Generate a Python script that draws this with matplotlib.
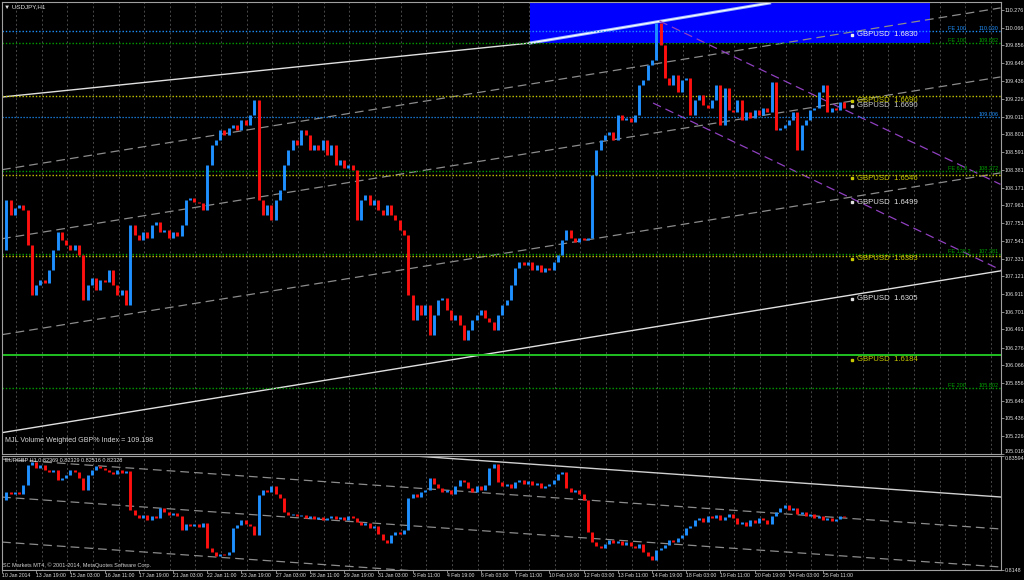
import numpy as np
import matplotlib.pyplot as plt

plt.rcParams['font.family'] = ['Liberation Sans', 'DejaVu Sans']

# USDJPY H1 closes, one every 4 bars
usdjpy = [
    107.43, 108.03, 107.85, 107.93, 107.97, 107.91, 107.49, 106.90, 107.02, 107.08,
    107.04, 107.20, 107.43, 107.65, 107.55, 107.49, 107.43, 107.49, 107.37, 106.84,
    107.02, 107.10, 106.96, 107.08, 107.05, 107.20, 107.02, 106.90, 106.96, 106.78,
    107.73, 107.61, 107.55, 107.65, 107.58, 107.73, 107.76, 107.65, 107.67, 107.58,
    107.65, 107.60, 107.73, 108.03, 108.05, 108.00, 107.99, 107.91, 108.44, 108.68,
    108.74, 108.85, 108.80, 108.88, 108.91, 108.85, 108.97, 108.91, 109.03, 109.21,
    108.03, 107.85, 107.97, 107.79, 108.03, 108.14, 108.44, 108.62, 108.74, 108.68,
    108.85, 108.80, 108.62, 108.68, 108.62, 108.74, 108.56, 108.68, 108.44, 108.50,
    108.40, 108.44, 108.38, 107.79, 108.03, 108.08, 107.97, 108.03, 107.91, 107.85,
    107.97, 107.85, 107.79, 107.67, 107.61, 106.90, 106.60, 106.78, 106.66, 106.78,
    106.43, 106.66, 106.84, 106.86, 106.72, 106.60, 106.66, 106.54, 106.37, 106.48,
    106.60, 106.66, 106.72, 106.63, 106.58, 106.48, 106.66, 106.78, 106.84, 107.02,
    107.22, 107.29, 107.25, 107.29, 107.20, 107.25, 107.17, 107.22, 107.20, 107.29,
    107.37, 107.55, 107.67, 107.58, 107.53, 107.58, 107.55, 107.58, 108.32, 108.62,
    108.74, 108.80, 108.83, 108.74, 109.03, 108.97, 109.00, 108.95, 109.03, 109.39,
    109.45, 109.62, 109.68, 110.12, 109.86, 109.47, 109.39, 109.51, 109.30, 109.45,
    109.47, 109.03, 109.21, 109.27, 109.15, 109.11, 109.21, 109.39, 108.91, 109.35,
    109.09, 109.07, 109.21, 108.97, 109.07, 109.00, 109.09, 109.03, 109.11, 109.07,
    109.42, 108.85, 108.88, 108.91, 108.97, 109.07, 108.62, 108.91, 108.97, 109.09,
    109.11, 109.30, 109.39, 109.07, 109.11, 109.09, 109.19, 109.11,
]

# EURGBP H1 closes, same spacing
eurgbp = [
    0.8278, 0.8293, 0.8289, 0.8293, 0.8289, 0.8306, 0.8343, 0.8348, 0.8337, 0.8343,
    0.8333, 0.8330, 0.8333, 0.8315, 0.8319, 0.8324, 0.8333, 0.8330, 0.8319, 0.8296,
    0.8324, 0.8333, 0.8341, 0.8337, 0.8333, 0.8330, 0.8326, 0.8333, 0.8328, 0.8332,
    0.8259, 0.8250, 0.8244, 0.8250, 0.8241, 0.8248, 0.8244, 0.8263, 0.8256, 0.8250,
    0.8254, 0.8248, 0.8222, 0.8233, 0.8230, 0.8233, 0.8228, 0.8235, 0.8189, 0.8181,
    0.8174, 0.8178, 0.8176, 0.8181, 0.8226, 0.8231, 0.8241, 0.8233, 0.8230, 0.8213,
    0.8287, 0.8296, 0.8293, 0.8304, 0.8289, 0.8282, 0.8256, 0.8250, 0.8252, 0.8248,
    0.8250, 0.8244, 0.8248, 0.8243, 0.8246, 0.8241, 0.8244, 0.8248, 0.8243, 0.8246,
    0.8241, 0.8248, 0.8244, 0.8237, 0.8231, 0.8235, 0.8226, 0.8230, 0.8215, 0.8204,
    0.8198, 0.8213, 0.8219, 0.8215, 0.8222, 0.8282, 0.8289, 0.8283, 0.8293, 0.8296,
    0.8319, 0.8308, 0.8300, 0.8293, 0.8296, 0.8289, 0.8304, 0.8315, 0.8311, 0.8300,
    0.8293, 0.8304, 0.8296, 0.8306, 0.8337, 0.8345, 0.8311, 0.8304, 0.8308, 0.8300,
    0.8311, 0.8315, 0.8308, 0.8313, 0.8306, 0.8309, 0.8300, 0.8304, 0.8308, 0.8315,
    0.8326, 0.8330, 0.8300, 0.8293, 0.8296, 0.8289, 0.8278, 0.8219, 0.8200, 0.8193,
    0.8189, 0.8196, 0.8204, 0.8198, 0.8202, 0.8194, 0.8200, 0.8193, 0.8189, 0.8196,
    0.8181, 0.8174, 0.8167, 0.8185, 0.8189, 0.8194, 0.8204, 0.8200, 0.8207, 0.8213,
    0.8226, 0.8230, 0.8241, 0.8244, 0.8237, 0.8248, 0.8244, 0.8250, 0.8241, 0.8246,
    0.8252, 0.8244, 0.8233, 0.8237, 0.8230, 0.8241, 0.8235, 0.8244, 0.8241, 0.8233,
    0.8248, 0.8256, 0.8263, 0.8269, 0.8259, 0.8263, 0.8252, 0.8256, 0.8248, 0.8252,
    0.8244, 0.8248, 0.8241, 0.8244, 0.8239, 0.8243, 0.8248, 0.8246,
]
step = 4  # bars between two stored closes

time_labels = ['10 Jan 2014', '13 Jan 19:00', '15 Jan 03:00', '16 Jan 11:00', '17 Jan 19:00',
               '21 Jan 03:00', '22 Jan 11:00', '23 Jan 19:00', '27 Jan 03:00', '28 Jan 11:00',
               '29 Jan 19:00', '31 Jan 03:00', '3 Feb 11:00', '4 Feb 19:00', '6 Feb 03:00',
               '7 Feb 11:00', '10 Feb 19:00', '12 Feb 03:00', '13 Feb 11:00', '14 Feb 19:00',
               '18 Feb 03:00', '19 Feb 11:00', '20 Feb 19:00', '24 Feb 03:00', '25 Feb 11:00']
label_every = 32  # bars

price_ticks = [110.276, 110.066, 109.856, 109.646, 109.436, 109.226, 109.011, 108.801, 108.591,
               108.381, 108.171, 107.961, 107.751, 107.541, 107.331, 107.121, 106.911, 106.701,
               106.491, 106.276, 106.066, 105.856, 105.646, 105.436, 105.226, 105.016]
eur_ticks = [0.83594, 0.8148]

# trend lines (price at first and last bar)
channel_bars = [0, 934]
lower_channel = (105.268, 107.185)
dashed_channel = [(108.384, 110.301), (107.566, 109.483), (106.429, 108.346)]
top_line_bars = [0, 494]
top_line_prices = [109.245, 109.885]
purple_bars = [(615, 934), (609, 934)]
purple_prices = [(110.146, 108.210), (109.174, 107.198)]
eur_solid = (0.84130, 0.82834)
eur_dashed = [(0.83537, 0.82241), (0.82832, 0.81536), (0.81998, 0.80702)]

# fibo expansion levels
fe_levels = [110.030, 109.882, 108.372, 107.381, 105.802]
fe_names = ['FE 100', 'FE 100', 'FE 61.8', 'FE 138.2', 'FE 200']
yellow_levels = [109.257, 108.321, 107.361]
blue_level = 109.006
green_solid_level = 106.188

# GBPUSD levels shown on the USDJPY scale
gbp_text = ['1.6830', '1.6690', '1.6690', '1.6546', '1.6499', '1.6383', '1.6305', '1.6184']
gbp_at = [109.980, 109.198, 109.139, 108.285, 108.001, 107.326, 106.852, 106.129]

rect_bars = [494, 868]
rect_prices = [109.885, 110.371]
rect_line_bars = [494, 718]
rect_line_prices = [109.885, 110.359]

BLUE = '#1E90FF'
RED = '#FF1010'
YEL = '#C8C800'
GRN = '#00A000'
FRAME = '#A0A0A0'
DOT = (0, (1, 1.4))
DASH = (0, (7, 4))

W, H = 1024, 580
fig = plt.figure(figsize=(W / 100, H / 100), dpi=100, facecolor='black')
ax = fig.add_axes([2 / W, 1 - 454 / H, 999 / W, 452 / H], facecolor='black')
ax2 = fig.add_axes([2 / W, 1 - 570 / H, 999 / W, 114 / H], facecolor='black', sharex=ax)

xmax = 934.5
ax.set_xlim(0, xmax)
ax.set_ylim(105.015, 110.371)
ax2.set_ylim(0.8148, 0.83594)

for a in (ax, ax2):
    for s in a.spines.values():
        s.set_color(FRAME)
        s.set_linewidth(0.8)
    for b in range(13, int(xmax), 24):
        a.axvline(b, color='#4A4A4A', lw=0.7, ls=(0, (2, 2.5)), zorder=0)


def draw_bars(a, closes, lw):
    c = np.asarray(closes)
    prev = np.r_[c[0], c[:-1]]
    x = np.arange(len(c)) * step
    up = c >= prev
    a.vlines(x[up], prev[up], c[up], color=BLUE, lw=lw, zorder=3)
    a.vlines(x[~up], c[~up], prev[~up], color=RED, lw=lw, zorder=3)


# ---- main panel ----
ax.fill_between(rect_bars, rect_prices[0], rect_prices[1], color='#0000FF', lw=0, zorder=1)
ax.plot(rect_line_bars, rect_line_prices, color='#9DB8FF', lw=2.2, zorder=2)
ax.plot(rect_line_bars, rect_line_prices, color='white', lw=0.8, zorder=2)

ax.plot(channel_bars, lower_channel, color='#E0E0E0', lw=1, zorder=2)
ax.plot(top_line_bars, top_line_prices, color='#E0E0E0', lw=1, zorder=2)
for lo, hi in dashed_channel:
    ax.plot(channel_bars, [lo, hi], color='#8C8C8C', lw=0.9, ls=DASH, zorder=2)
for bx, py in zip(purple_bars, purple_prices):
    ax.plot(bx, py, color='#9040C0', lw=0.9, ls=DASH, zorder=2)

fe_colors = [BLUE, GRN, GRN, GRN, GRN]
for lvl, name, col in zip(fe_levels, fe_names, fe_colors):
    ax.axhline(lvl, color=col, lw=1, ls=DOT, zorder=2)
    ax.text(885, lvl, name, color=col, fontsize=4, va='bottom', ha='left')
    ax.text(xmax - 2, lvl, '%.3f' % lvl, color=col, fontsize=4, va='bottom', ha='right')
for lvl in yellow_levels:
    ax.axhline(lvl, color=YEL, lw=1, ls=DOT, zorder=2)
ax.axhline(blue_level, color=BLUE, lw=0.9, ls=DOT, zorder=2)
ax.text(xmax - 2, blue_level, '%.3f' % blue_level, color=BLUE, fontsize=4, va='bottom', ha='right')
ax.axhline(green_solid_level, color='#20C020', lw=1.4, zorder=2)

draw_bars(ax, usdjpy, 2.1)

gbp_colors = ['#F0F0F0', YEL, '#C8C8C8', YEL, '#E0E0E0', YEL, '#E0E0E0', YEL]
for txt, p, col in zip(gbp_text, gbp_at, gbp_colors):
    ax.plot(795, p, marker='s', ms=2, color=col, zorder=5)
    ax.text(800, p, 'GBPUSD  ' + txt, color=col, fontsize=5.6, va='center', ha='left', zorder=5)

ax.yaxis.tick_right()
ax.set_yticks(price_ticks)
ax.set_yticklabels(['%.3f' % t for t in price_ticks])
ax.tick_params(axis='y', colors=FRAME, labelcolor='#E0E0E0', labelsize=3.9, length=2, width=0.6, pad=0.4)
ax.get_yticklabels()[-1].set_va('bottom')
ax.tick_params(axis='x', bottom=False, labelbottom=False)

# ---- EURGBP panel ----
ax2.plot(channel_bars, eur_solid, color='#D0D0D0', lw=1, zorder=2)
for lo, hi in eur_dashed:
    ax2.plot(channel_bars, [lo, hi], color='#8C8C8C', lw=0.9, ls=DASH, zorder=2)
draw_bars(ax2, eurgbp, 2.1)

ax2.yaxis.tick_right()
ax2.set_yticks(eur_ticks)
ax2.set_yticklabels(['0.83594', '0.8148'])
for lab, va in zip(ax2.get_yticklabels(), ['top', 'center']):
    lab.set_va(va)
ax2.tick_params(axis='y', colors=FRAME, labelcolor='#E0E0E0', labelsize=3.9, length=2, width=0.6, pad=0.4)

ax2.set_xticks(np.arange(len(time_labels)) * label_every)
ax2.set_xticklabels(time_labels, ha='left')
ax2.tick_params(axis='x', colors=FRAME, labelcolor='#E0E0E0', labelsize=3.7, length=2, width=0.6, pad=0.5)

# ---- texts ----
fig.text(4 / W, 1 - 7 / H, '\u25BC USDJPY,H1', color='#E0E0E0', fontsize=4.5, va='center')
fig.text(5 / W, 1 - 440 / H, 'MJL Volume Weighted GBP% Index = 109.198', color='#D8D8D8',
         fontsize=5.1, va='center')
fig.text(5 / W, 1 - 461 / H, 'EURGBP H1 0.82369 0.82329 0.82516 0.82328', color='#E0E0E0',
         fontsize=4, va='center')
fig.text(3 / W, 1 - 565 / H, 'SC Markets MT4, \u00A9 2001-2014, MetaQuotes Software Corp.',
         color='#D0D0D0', fontsize=4, va='center')

fig.savefig('out.png', dpi=100, facecolor='black')
